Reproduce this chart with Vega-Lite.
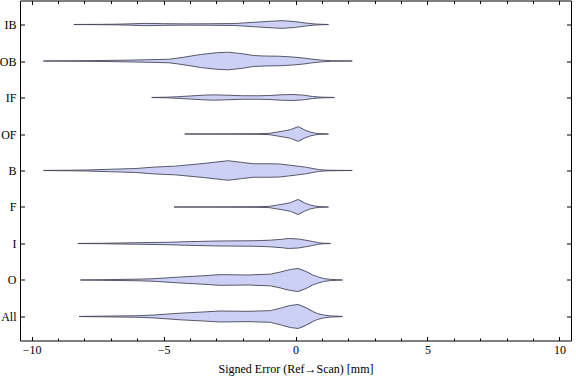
{
  "$schema": "https://vega.github.io/schema/vega-lite/v6.json",
  "autosize": {"type": "none"},
  "padding": {"left": 20, "top": 0.5, "right": 5, "bottom": 40.5},
  "width": 551,
  "height": 340,
  "config": {
    "view": {"stroke": "#000", "strokeWidth": 1},
    "axis": {"domain": false, "grid": false, "tickColor": "#000", "tickWidth": 1, "labelFont": "Liberation Serif", "labelFontSize": 12, "labelColor": "#000", "titleFont": "Liberation Serif", "titleFontSize": 12, "titleFontWeight": "normal", "titleColor": "#000"}
  },
  "data": {"values": [
    {"cat": "IB", "x": -8.4, "d": 0.004}, {"cat": "IB", "x": -7.5, "d": 0.013}, {"cat": "IB", "x": -6.8, "d": 0.025}, {"cat": "IB", "x": -6.3, "d": 0.054}, {"cat": "IB", "x": -5.7, "d": 0.096}, {"cat": "IB", "x": -5.0, "d": 0.071}, {"cat": "IB", "x": -4.2, "d": 0.054}, {"cat": "IB", "x": -3.3, "d": 0.063}, {"cat": "IB", "x": -2.3, "d": 0.083}, {"cat": "IB", "x": -1.6, "d": 0.179}, {"cat": "IB", "x": -1.0, "d": 0.263}, {"cat": "IB", "x": -0.5, "d": 0.321}, {"cat": "IB", "x": 0.0, "d": 0.238}, {"cat": "IB", "x": 0.38, "d": 0.125}, {"cat": "IB", "x": 0.75, "d": 0.042}, {"cat": "IB", "x": 1.0, "d": 0.017}, {"cat": "IB", "x": 1.25, "d": 0.004},

    {"cat": "OB", "x": -9.55, "d": 0.004}, {"cat": "OB", "x": -8.5, "d": 0.017}, {"cat": "OB", "x": -7.3, "d": 0.042}, {"cat": "OB", "x": -6.05, "d": 0.083}, {"cat": "OB", "x": -4.8, "d": 0.146}, {"cat": "OB", "x": -4.3, "d": 0.292}, {"cat": "OB", "x": -3.6, "d": 0.542}, {"cat": "OB", "x": -3.0, "d": 0.688}, {"cat": "OB", "x": -2.55, "d": 0.733}, {"cat": "OB", "x": -2.0, "d": 0.604}, {"cat": "OB", "x": -1.6, "d": 0.458}, {"cat": "OB", "x": -1.2, "d": 0.417}, {"cat": "OB", "x": -0.6, "d": 0.396}, {"cat": "OB", "x": -0.1, "d": 0.333}, {"cat": "OB", "x": 0.3, "d": 0.25}, {"cat": "OB", "x": 0.7, "d": 0.133}, {"cat": "OB", "x": 1.05, "d": 0.063}, {"cat": "OB", "x": 1.4, "d": 0.021}, {"cat": "OB", "x": 2.15, "d": 0.004},

    {"cat": "IF", "x": -5.45, "d": 0.004}, {"cat": "IF", "x": -4.9, "d": 0.025}, {"cat": "IF", "x": -4.5, "d": 0.063}, {"cat": "IF", "x": -4.0, "d": 0.125}, {"cat": "IF", "x": -3.5, "d": 0.192}, {"cat": "IF", "x": -3.1, "d": 0.221}, {"cat": "IF", "x": -2.6, "d": 0.192}, {"cat": "IF", "x": -2.0, "d": 0.146}, {"cat": "IF", "x": -1.4, "d": 0.146}, {"cat": "IF", "x": -1.0, "d": 0.167}, {"cat": "IF", "x": -0.5, "d": 0.229}, {"cat": "IF", "x": -0.1, "d": 0.25}, {"cat": "IF", "x": 0.3, "d": 0.196}, {"cat": "IF", "x": 0.65, "d": 0.083}, {"cat": "IF", "x": 1.0, "d": 0.029}, {"cat": "IF", "x": 1.48, "d": 0.004},

    {"cat": "OF", "x": -4.2, "d": 0.004}, {"cat": "OF", "x": -2.5, "d": 0.013}, {"cat": "OF", "x": -1.5, "d": 0.025}, {"cat": "OF", "x": -1.0, "d": 0.05}, {"cat": "OF", "x": -0.68, "d": 0.167}, {"cat": "OF", "x": -0.4, "d": 0.271}, {"cat": "OF", "x": -0.19, "d": 0.363}, {"cat": "OF", "x": 0.1, "d": 0.613}, {"cat": "OF", "x": 0.35, "d": 0.333}, {"cat": "OF", "x": 0.55, "d": 0.167}, {"cat": "OF", "x": 0.72, "d": 0.083}, {"cat": "OF", "x": 0.9, "d": 0.033}, {"cat": "OF", "x": 1.25, "d": 0.004},

    {"cat": "B", "x": -9.55, "d": 0.004}, {"cat": "B", "x": -8.5, "d": 0.025}, {"cat": "B", "x": -7.95, "d": 0.042}, {"cat": "B", "x": -7.0, "d": 0.104}, {"cat": "B", "x": -6.05, "d": 0.167}, {"cat": "B", "x": -5.3, "d": 0.292}, {"cat": "B", "x": -4.55, "d": 0.363}, {"cat": "B", "x": -3.5, "d": 0.583}, {"cat": "B", "x": -2.55, "d": 0.813}, {"cat": "B", "x": -2.0, "d": 0.667}, {"cat": "B", "x": -1.6, "d": 0.563}, {"cat": "B", "x": -1.0, "d": 0.563}, {"cat": "B", "x": -0.6, "d": 0.542}, {"cat": "B", "x": -0.27, "d": 0.458}, {"cat": "B", "x": 0.38, "d": 0.279}, {"cat": "B", "x": 0.87, "d": 0.083}, {"cat": "B", "x": 1.15, "d": 0.033}, {"cat": "B", "x": 1.6, "d": 0.013}, {"cat": "B", "x": 2.15, "d": 0.004},

    {"cat": "F", "x": -4.6, "d": 0.004}, {"cat": "F", "x": -2.5, "d": 0.013}, {"cat": "F", "x": -1.5, "d": 0.025}, {"cat": "F", "x": -1.0, "d": 0.05}, {"cat": "F", "x": -0.68, "d": 0.167}, {"cat": "F", "x": -0.4, "d": 0.271}, {"cat": "F", "x": -0.19, "d": 0.363}, {"cat": "F", "x": 0.1, "d": 0.625}, {"cat": "F", "x": 0.35, "d": 0.333}, {"cat": "F", "x": 0.55, "d": 0.167}, {"cat": "F", "x": 0.72, "d": 0.083}, {"cat": "F", "x": 0.9, "d": 0.033}, {"cat": "F", "x": 1.25, "d": 0.004},

    {"cat": "I", "x": -8.25, "d": 0.004}, {"cat": "I", "x": -7.3, "d": 0.021}, {"cat": "I", "x": -6.05, "d": 0.063}, {"cat": "I", "x": -4.8, "d": 0.104}, {"cat": "I", "x": -4.2, "d": 0.146}, {"cat": "I", "x": -2.9, "d": 0.208}, {"cat": "I", "x": -1.6, "d": 0.229}, {"cat": "I", "x": -1.0, "d": 0.271}, {"cat": "I", "x": -0.5, "d": 0.354}, {"cat": "I", "x": -0.27, "d": 0.417}, {"cat": "I", "x": 0.1, "d": 0.375}, {"cat": "I", "x": 0.4, "d": 0.271}, {"cat": "I", "x": 0.65, "d": 0.167}, {"cat": "I", "x": 0.87, "d": 0.063}, {"cat": "I", "x": 1.05, "d": 0.025}, {"cat": "I", "x": 1.33, "d": 0.004},

    {"cat": "O", "x": -8.15, "d": 0.004}, {"cat": "O", "x": -7.3, "d": 0.029}, {"cat": "O", "x": -6.05, "d": 0.063}, {"cat": "O", "x": -5.4, "d": 0.104}, {"cat": "O", "x": -4.35, "d": 0.25}, {"cat": "O", "x": -3.5, "d": 0.354}, {"cat": "O", "x": -2.85, "d": 0.446}, {"cat": "O", "x": -1.8, "d": 0.417}, {"cat": "O", "x": -0.95, "d": 0.488}, {"cat": "O", "x": -0.57, "d": 0.667}, {"cat": "O", "x": -0.2, "d": 0.875}, {"cat": "O", "x": 0.1, "d": 0.958}, {"cat": "O", "x": 0.4, "d": 0.708}, {"cat": "O", "x": 0.65, "d": 0.417}, {"cat": "O", "x": 0.83, "d": 0.279}, {"cat": "O", "x": 1.06, "d": 0.125}, {"cat": "O", "x": 1.33, "d": 0.05}, {"cat": "O", "x": 1.78, "d": 0.004},

    {"cat": "All", "x": -8.2, "d": 0.004}, {"cat": "All", "x": -7.3, "d": 0.029}, {"cat": "All", "x": -6.05, "d": 0.063}, {"cat": "All", "x": -5.4, "d": 0.117}, {"cat": "All", "x": -4.35, "d": 0.279}, {"cat": "All", "x": -3.5, "d": 0.375}, {"cat": "All", "x": -2.85, "d": 0.458}, {"cat": "All", "x": -1.8, "d": 0.429}, {"cat": "All", "x": -0.95, "d": 0.488}, {"cat": "All", "x": -0.57, "d": 0.696}, {"cat": "All", "x": -0.2, "d": 0.917}, {"cat": "All", "x": 0.1, "d": 1.0}, {"cat": "All", "x": 0.4, "d": 0.729}, {"cat": "All", "x": 0.65, "d": 0.417}, {"cat": "All", "x": 0.83, "d": 0.25}, {"cat": "All", "x": 1.06, "d": 0.125}, {"cat": "All", "x": 1.33, "d": 0.05}, {"cat": "All", "x": 1.78, "d": 0.004}
  ]},
  "resolve": {"axis": {"x": "independent", "y": "independent"}, "scale": {"yOffset": "independent"}},
  "layer": [
    {
      "mark": {"type": "trail", "fill": "#ccd0f4", "color": "#ccd0f4"},
      "encoding": {
        "x": {"field": "x", "type": "quantitative", "scale": {"domain": [-10.44, 10.44], "nice": false, "zero": false},
              "axis": {"orient": "bottom", "values": [-10, -5, 0, 5, 10], "tickSize": -4, "labelPadding": 8, "title": "Signed Error (Ref→Scan) [mm]", "titlePadding": 8}},
        "y": {"field": "cat", "type": "nominal", "sort": ["IB", "OB", "IF", "OF", "B", "F", "I", "O", "All"], "scale": {"type": "point", "padding": 0.658},
              "axis": {"orient": "left", "tickSize": -4.5, "labelPadding": 8.5, "title": null}},
        "size": {"field": "d", "type": "quantitative", "scale": {"domain": [0, 1], "range": [0, 24]}, "legend": null},
        "detail": {"field": "cat"},
        "order": {"field": "x", "type": "quantitative"}
      }
    },
    {
      "mark": {"type": "line", "stroke": "#474759", "strokeWidth": 0.9},
      "encoding": {
        "x": {"field": "x", "type": "quantitative", "axis": {"orient": "bottom", "values": [-10, -9, -8, -7, -6, -5, -4, -3, -2, -1, 0, 1, 2, 3, 4, 5, 6, 7, 8, 9, 10], "tickSize": -2.5, "labels": false, "title": null}},
        "y": {"field": "cat", "type": "nominal", "sort": ["IB", "OB", "IF", "OF", "B", "F", "I", "O", "All"], "axis": {"orient": "right", "tickSize": -4.5, "labels": false, "title": null}},
        "yOffset": {"field": "d", "type": "quantitative", "scale": {"domain": [0, 1], "range": [0, -12]}},
        "detail": {"field": "cat"},
        "order": {"field": "x", "type": "quantitative"}
      }
    },
    {
      "mark": {"type": "line", "stroke": "#474759", "strokeWidth": 0.9},
      "encoding": {
        "x": {"field": "x", "type": "quantitative", "axis": {"orient": "top", "values": [-10, -9, -8, -7, -6, -5, -4, -3, -2, -1, 0, 1, 2, 3, 4, 5, 6, 7, 8, 9, 10], "tickSize": -3, "labels": false, "title": null}},
        "y": {"field": "cat", "type": "nominal", "sort": ["IB", "OB", "IF", "OF", "B", "F", "I", "O", "All"], "axis": null},
        "yOffset": {"field": "d", "type": "quantitative", "scale": {"domain": [0, 1], "range": [0, 12]}},
        "detail": {"field": "cat"},
        "order": {"field": "x", "type": "quantitative"}
      }
    },
    {
      "mark": {"type": "line", "opacity": 0},
      "encoding": {
        "x": {"field": "x", "type": "quantitative", "axis": {"orient": "top", "values": [-10, -5, 0, 5, 10], "tickSize": -4, "labels": false, "title": null}},
        "y": {"field": "cat", "type": "nominal", "sort": ["IB", "OB", "IF", "OF", "B", "F", "I", "O", "All"], "axis": null},
        "detail": {"field": "cat"},
        "order": {"field": "x", "type": "quantitative"}
      }
    }
  ]
}
